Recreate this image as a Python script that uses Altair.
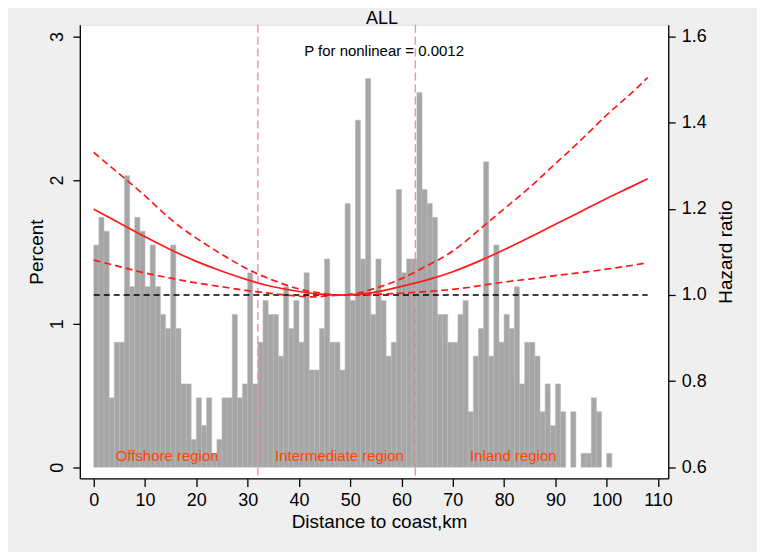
import altair as alt
import pandas as pd

# ---------------- data ----------------
bin_start = list(range(0, 101))          # 1-km histogram bins [k, k+1)
bin_count = [16, 18, 17, 5, 9, 9, 21, 13, 18, 17,
             13, 16, 13, 11, 10, 16, 10, 6, 6, 2,
             5, 3, 5, 1, 2, 5, 5, 11, 5, 6,
             14, 6, 9, 12, 11, 11, 8, 13, 10, 12,
             9, 14, 7, 7, 10, 15, 9, 9, 7, 19,
             12, 25, 15, 28, 11, 15, 12, 8, 9, 20,
             14, 15, 15, 27, 20, 19, 18, 11, 11, 9,
             9, 11, 12, 4, 8, 10, 22, 8, 16, 9,
             11, 10, 13, 6, 9, 9, 8, 4, 6, 3,
             6, 4, 0, 4, 0, 1, 1, 5, 4, 0, 1]

curve_km = [0, 5, 10, 15, 20, 25, 30, 35, 40, 44, 48, 52, 56, 60, 65,
            70, 75, 80, 85, 90, 95, 100, 104, 108]
hr_est = [1.199, 1.167, 1.135, 1.105, 1.078, 1.055, 1.035, 1.019, 1.008,
          1.002, 1.000, 1.002, 1.009, 1.020, 1.035, 1.054, 1.078, 1.105,
          1.134, 1.164, 1.194, 1.224, 1.247, 1.270]
hr_lo = [1.081, 1.066, 1.051, 1.039, 1.028, 1.019, 1.010, 1.003, 0.997,
         0.996, 1.000, 1.000, 1.002, 1.004, 1.008, 1.013, 1.021, 1.030,
         1.037, 1.045, 1.052, 1.060, 1.067, 1.075]
hr_hi = [1.331, 1.281, 1.230, 1.176, 1.132, 1.094, 1.060, 1.034, 1.014,
         1.005, 1.000, 1.006, 1.020, 1.038, 1.068, 1.102, 1.150, 1.200,
         1.250, 1.305, 1.360, 1.418, 1.460, 1.505]

ref_x = [0, 108]
ref_hr = [1.0]
cutoffs_km = [32.0, 62.7]
region_labels = ["Offshore region", "Intermediate region", "Inland region"]
region_km = [14.3, 47.9, 81.8]

x_ticks = list(range(0, 111, 10))
pct_ticks = [0, 1, 2, 3]
hr_ticks = [0.6, 0.8, 1.0, 1.2, 1.4, 1.6]

title_text = "ALL"
p_text = "P for nonlinear = 0.0012"

# ---------------- layout / style constants ----------------
FONT = "Liberation Sans"
W, H = 590, 455
REGION_Y = 0.04          # percent units (label baseline)
P_POS = (56.6, 1.567)    # km, hazard ratio (text centre)
TITLE_POS = (56.2, 1.630)  # km, hazard ratio (text baseline, above plot)
RED = "#ff1a1a"

xs = alt.Scale(domain=[-2.72, 112.0], nice=False, zero=False)
PCT_DOMAIN = [-0.0785, 3.083]
HR_DOMAIN = [0.5738, 1.6278]


def pct_scale():
    return alt.Scale(domain=PCT_DOMAIN, nice=False, zero=False)


def hr_scale():
    return alt.Scale(domain=HR_DOMAIN, nice=False, zero=False)


# ---------------- tables ----------------
total = sum(bin_count)
bars_df = pd.DataFrame({"start": bin_start,
                        "end": [s + 1 for s in bin_start],
                        "count": bin_count})
bars_df = bars_df[bars_df["count"] > 0].copy()
bars_df["pct"] = bars_df["count"] / total * 100.0
bars_df["base"] = 0.0

est_df = pd.DataFrame({"km": curve_km, "hr": hr_est})
ci_df = pd.concat([
    pd.DataFrame({"km": curve_km, "hr": hr_lo, "series": "lower"}),
    pd.DataFrame({"km": curve_km, "hr": hr_hi, "series": "upper"}),
])
ref_df = pd.DataFrame({"x0": [ref_x[0]], "x1": [ref_x[1]], "hr": ref_hr})
cut_df = pd.DataFrame({"km": cutoffs_km})
reg_df = pd.DataFrame({"km": region_km, "label": region_labels,
                       "y": [REGION_Y] * len(region_km)})
p_df = pd.DataFrame({"km": [P_POS[0]], "hr": [P_POS[1]], "label": [p_text]})
t_df = pd.DataFrame({"km": [TITLE_POS[0]], "hr": [TITLE_POS[1]],
                     "label": [title_text]})

# ---------------- axes ----------------
x_axis = alt.Axis(values=x_ticks, title="Distance to coast,km", grid=False,
                  tickSize=8, labelPadding=5, labelFontSize=18,
                  titleFontSize=19, titleFontWeight="normal",
                  titleX=300, titleY=43, titleAlign="center",
                  titleBaseline="middle")
left_axis = alt.Axis(orient="left", values=pct_ticks, title="Percent",
                     grid=False, tickSize=7, labelAngle=270,
                     labelAlign="center", labelBaseline="middle",
                     labelPadding=15, labelFontSize=18, titleFontSize=19,
                     titleFontWeight="normal", titleAngle=270,
                     titleX=-43, titleY=H / 2, titleAlign="center",
                     titleBaseline="middle")
right_axis = alt.Axis(orient="right", values=hr_ticks, format=".1f",
                      title="Hazard ratio", grid=False, tickSize=7,
                      labelPadding=6, labelFontSize=18,
                      labelBaseline="middle", titleFontSize=19,
                      titleFontWeight="normal", titleAngle=270,
                      titleX=57, titleY=H / 2, titleAlign="center",
                      titleBaseline="middle")


def xenc(field):
    # identical axis spec on every layer so the shared x axis merges cleanly
    return alt.X(field, scale=xs, axis=x_axis)


# ---------------- layers ----------------
bars = alt.Chart(bars_df).mark_rect(
    fill="#a6a6a6", stroke="#b9b9b9", strokeWidth=0.5
).encode(
    x=xenc("start:Q"),
    x2="end:Q",
    y=alt.Y("pct:Q", scale=pct_scale(), axis=left_axis),
    y2="base:Q",
)

cuts = alt.Chart(cut_df).mark_rule(
    color="#f2929a", strokeWidth=1.4, strokeDash=[8, 4]
).encode(x=xenc("km:Q"))

regions = alt.Chart(reg_df).mark_text(
    font=FONT, fontSize=15, color="#ff4500", align="center",
    baseline="alphabetic"
).encode(
    x=xenc("km:Q"),
    y=alt.Y("y:Q", scale=pct_scale(), axis=None),
    text="label:N",
)

ref = alt.Chart(ref_df).mark_rule(
    color="black", strokeWidth=1.6, strokeDash=[6, 4]
).encode(
    x=xenc("x0:Q"),
    x2="x1:Q",
    y=alt.Y("hr:Q", scale=hr_scale(), axis=None),
)

ci = alt.Chart(ci_df).mark_line(
    color=RED, strokeWidth=1.7, strokeDash=[7, 4], interpolate="natural"
).encode(
    x=xenc("km:Q"),
    y=alt.Y("hr:Q", scale=hr_scale(), axis=None),
    detail="series:N",
)

est = alt.Chart(est_df).mark_line(
    color=RED, strokeWidth=1.7, interpolate="natural"
).encode(
    x=xenc("km:Q"),
    y=alt.Y("hr:Q", scale=hr_scale(), axis=right_axis),
)

ptxt = alt.Chart(p_df).mark_text(
    font=FONT, fontSize=15, color="black", align="center", baseline="middle"
).encode(
    x=xenc("km:Q"),
    y=alt.Y("hr:Q", scale=hr_scale(), axis=None),
    text="label:N",
)

ttxt = alt.Chart(t_df).mark_text(
    font=FONT, fontSize=18, color="black", align="center",
    baseline="alphabetic"
).encode(
    x=xenc("km:Q"),
    y=alt.Y("hr:Q", scale=hr_scale(), axis=None),
    text="label:N",
)

chart = alt.layer(bars, cuts, regions, ref, ci, est, ptxt, ttxt).resolve_scale(
    y="independent"
).properties(
    width=W,
    height=H,
    padding={"left": 72, "top": 16, "right": 89, "bottom": 73},
    autosize=alt.AutoSizeParams(type="none"),
    background="#efefef",
).configure_view(
    fill="white"
).configure_axis(
    domainColor="black", tickColor="black", labelColor="black",
    titleColor="black", labelFont=FONT, titleFont=FONT,
    domainWidth=1.3, tickWidth=1.3,
)

chart.save("out.html", embed_options={"renderer": "svg", "actions": False})
